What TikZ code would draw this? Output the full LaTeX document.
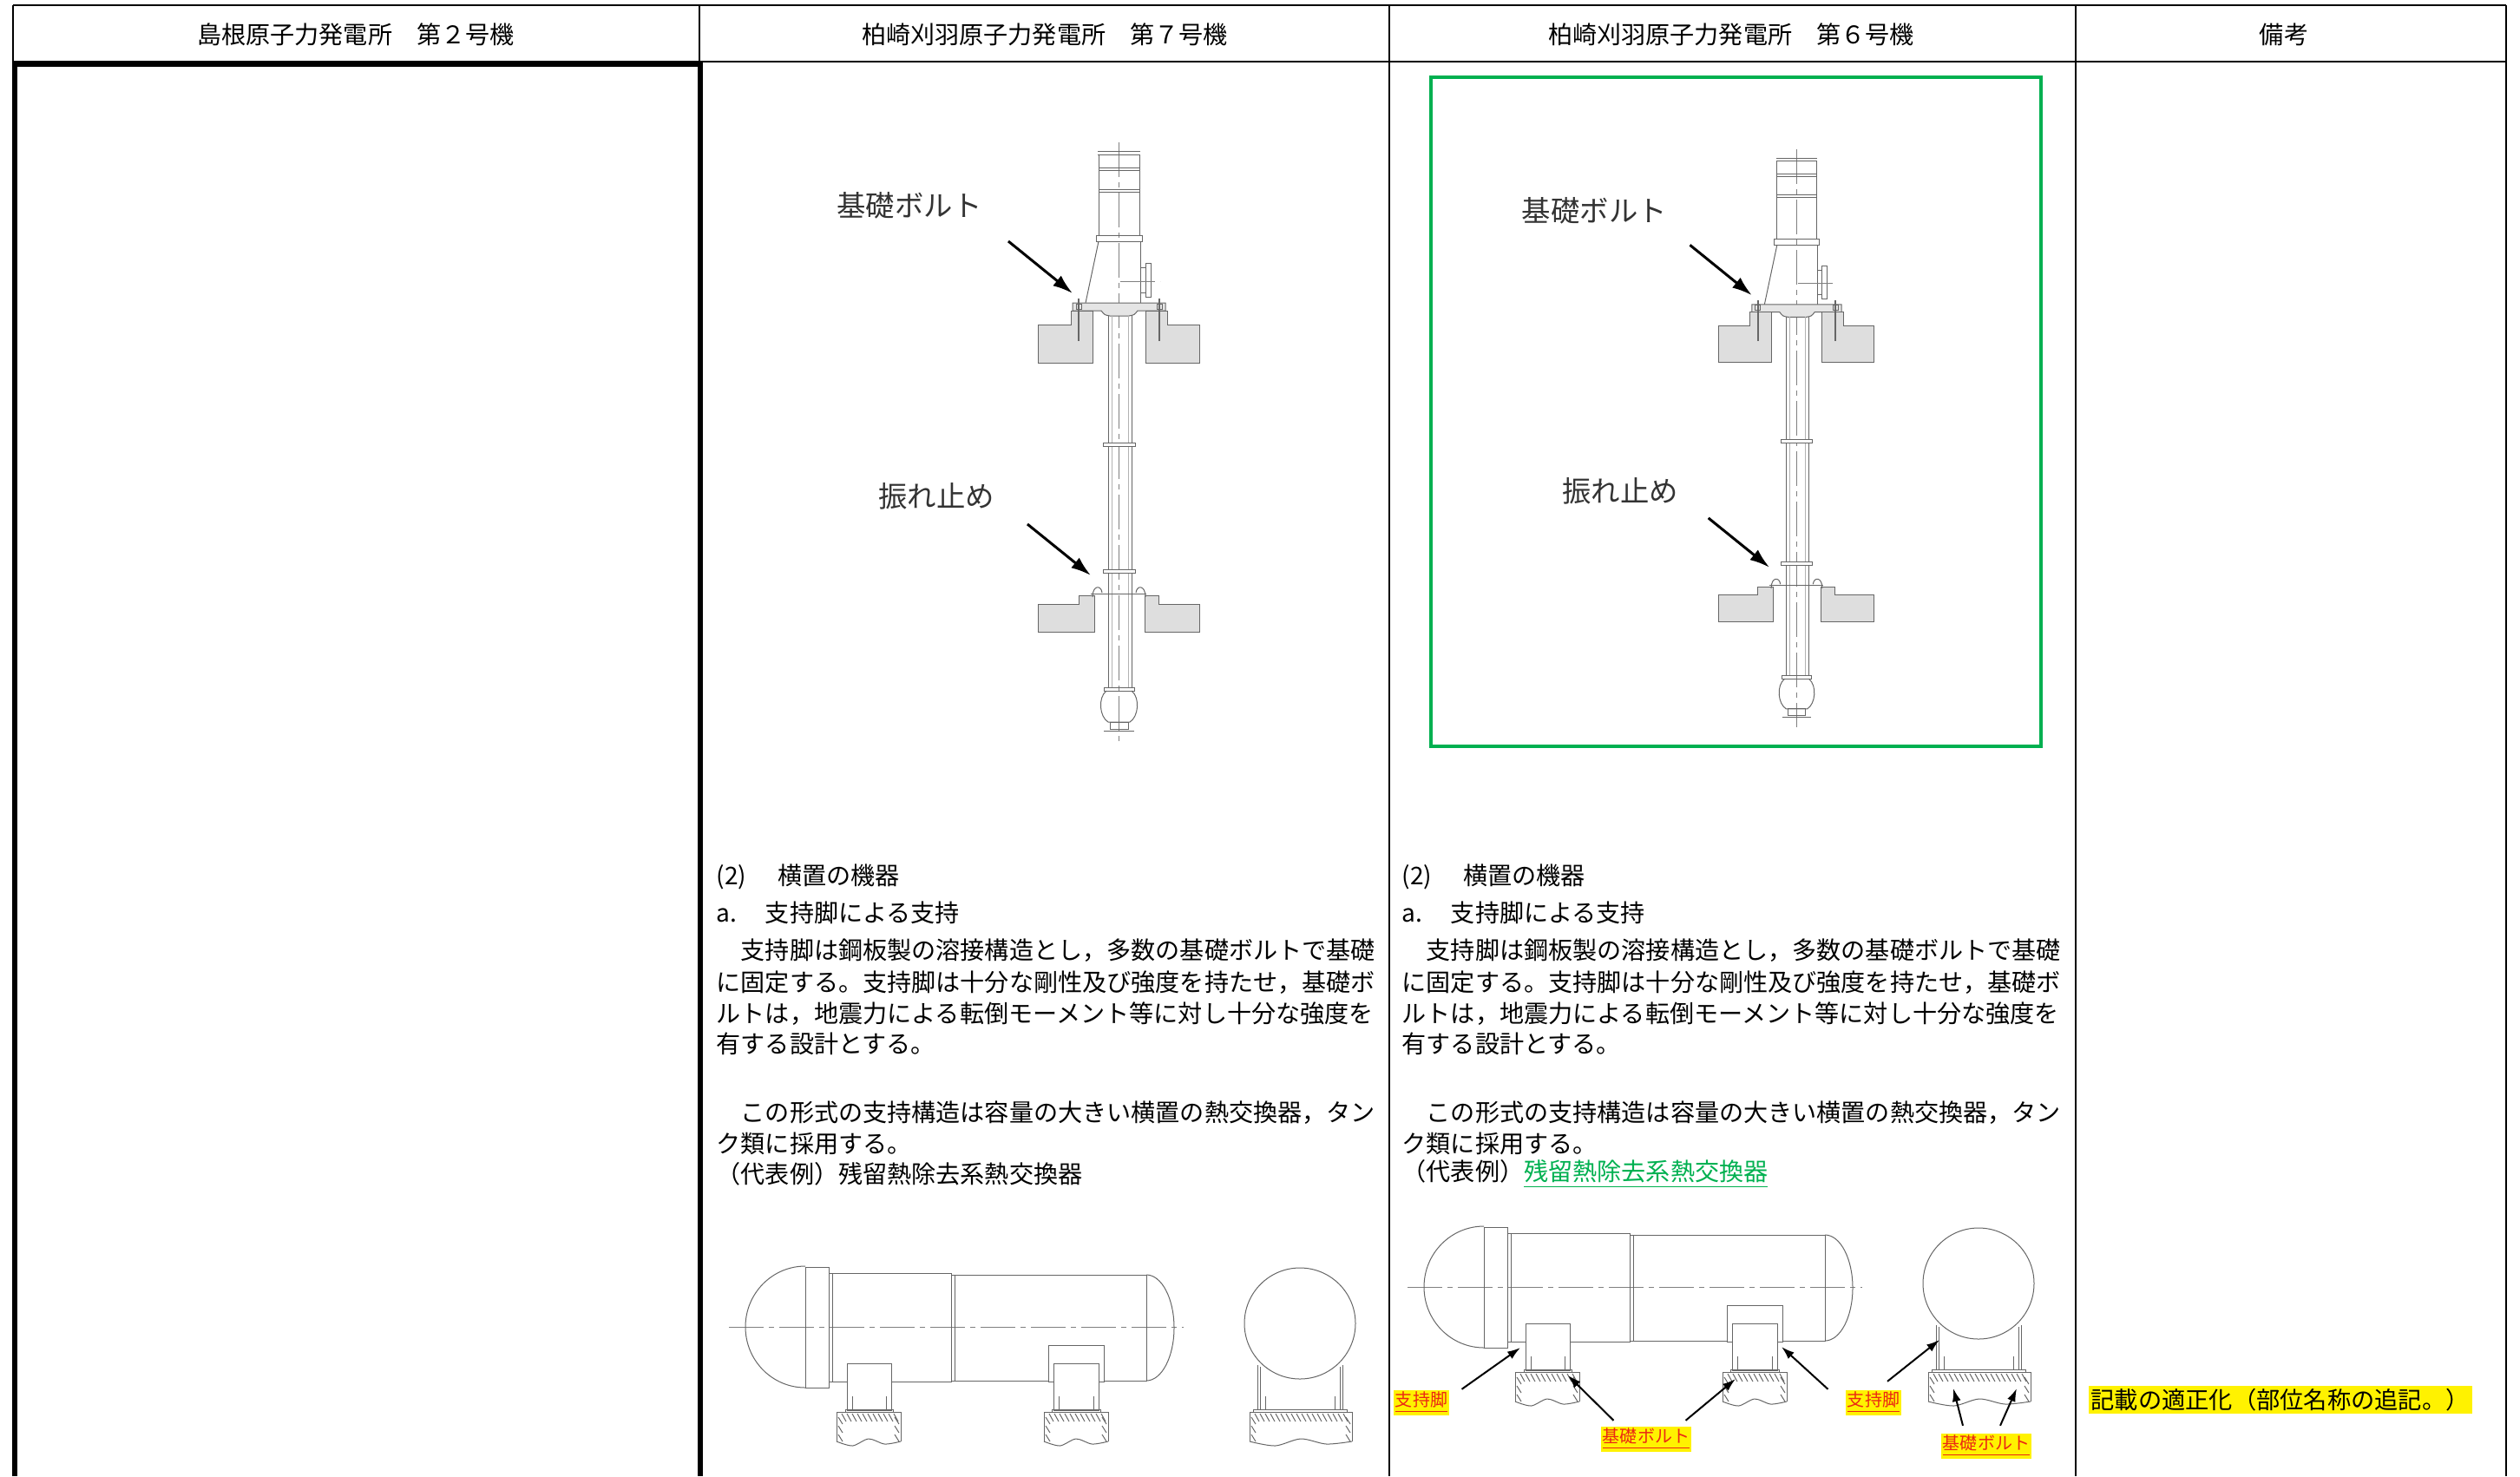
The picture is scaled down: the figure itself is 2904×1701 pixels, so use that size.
\documentclass[tikz,border=0pt]{standalone}
\usepackage{fontspec}
\setmainfont{Noto Sans CJK JP}
\usepackage{tikz}
\usetikzlibrary{calc,positioning,arrows.meta}
\definecolor{vert}{RGB}{0,176,80}
\definecolor{rouge}{RGB}{235,40,20}
\tikzset{
  tabline/.style={draw=black, line width=0.25mm},
  tabthick/.style={draw=black, line width=0.6mm},
  greenbox/.style={draw=vert, line width=0.4mm},
  hdr/.style={inner sep=0pt, font=\fontsize{8pt}{9pt}\selectfont},
  txt/.style={anchor=west, inner sep=0pt, font=\fontsize{8pt}{9pt}\selectfont},
  drw/.style={draw=black!60, line width=0.1mm},
  cline/.style={draw=black!50, line width=0.08mm, dash pattern=on 4mm off 0.6mm on 0.6mm off 0.6mm},
  concrete/.style={drw, fill=black!13},
  lbl/.style={inner sep=0pt, text=black!80, font=\fontsize{9.5pt}{10pt}\selectfont},
  bigarrow/.style={draw=black, line width=0.3mm, -{Latex[length=2.3mm,width=1.5mm]}},
  smallarrow/.style={draw=black, line width=0.2mm, -{Latex[length=1.5mm,width=1mm]}},
  hilite/.style={fill=yellow, text=rouge, inner sep=0.5pt, font=\fontsize{5.7pt}{6pt}\selectfont},
  note/.style={anchor=west, fill=yellow, inner sep=0.3mm, font=\fontsize{7.75pt}{9pt}\selectfont},
  vpump/.pic={
    \draw[cline] (0,-10) -- (0,680);
    % motor
    \draw[drw] (-24,0) -- (25,0) (-24,4) -- (25,4);
    \draw[drw] (-23,4) rectangle (24,97);
    \draw[drw] (-23,19) -- (24,19) (-23,22) -- (24,22) (-23,44) -- (24,44) (-23,47) -- (24,47);
    \draw[drw] (-26,97) rectangle (27,104);
    % discharge head
    \draw[drw] (-23,104) -- (-38,175);
    \draw[drw] (25,104) -- (25,175);
    \draw[drw] (25,134) rectangle (31,163) (31,129) rectangle (37,168);
    \draw[cline] (2,150) -- (48,150);
    \draw[drw, fill=black!10] (-53,175) -- (54,175) -- (54,184) -- (22,184) .. controls (18,189) .. (12,190) -- (-10,190) .. controls (-16,189) .. (-20,184) -- (-53,184) -- cycle;
    % upper foundation
    \draw[concrete] (-93,200) -- (-55,200) -- (-55,184) -- (-30,184) -- (-30,244) -- (-93,244) -- cycle;
    \draw[concrete] (93,200) -- (56,200) -- (56,184) -- (31,184) -- (31,244) -- (93,244) -- cycle;
    \foreach \bx in {-46,47} {
      \draw[drw, line width=0.2mm] (\bx,170) -- (\bx,219);
      \draw[drw] (\bx-3,176) rectangle (\bx+3,182);
    }
    % column
    \draw[drw] (-12,190) -- (-12,618) (15,190) -- (15,618);
    \draw[drw, black!30] (-8,190) -- (-8,618) (11,190) -- (11,618);
    \foreach \ry in {336,482} \draw[drw, fill=white] (-18,\ry) rectangle (19,\ry+4);
    % lower foundation, guide
    \draw[concrete] (-93,522) -- (-46,522) -- (-46,512) -- (-28,512) -- (-28,554) -- (-93,554) -- cycle;
    \draw[concrete] (93,522) -- (46,522) -- (46,512) -- (30,512) -- (30,554) -- (93,554) -- cycle;
    \draw[drw] (-32,510) -- (32,510);
    \draw[drw] (-30,514) .. controls (-30,500) and (-20,500) .. (-19,509);
    \draw[drw] (31,514) .. controls (31,500) and (21,500) .. (20,509);
    % suction bell
    \draw[drw] (-17,618) rectangle (18,622);
    \draw[drw] (-14,622) .. controls (-24,630) and (-22,652) .. (-12,658) -- (13,658) .. controls (23,652) and (25,630) .. (15,622);
    \draw[drw] (-10,658) rectangle (11,666);
    \draw[drw] (-17,668) -- (18,668);
    % labels
    \node[lbl] (-bolt) at (-241,63) {基礎ボルト};
    \node[lbl] (-guide) at (-210,398) {振れ止め};
    \coordinate (-b0) at (-127,104);
    \coordinate (-b1) at (-53,164);
    \coordinate (-g0) at (-105,430);
    \coordinate (-g1) at (-32,489);
    \draw[bigarrow] (-b0) -- (-b1);
    \draw[bigarrow] (-g0) -- (-g1);
  },
  hexch/.pic={
    \draw[cline] (-88,0) -- (436,0);
    % shell
    \draw[drw] (0,70) arc[start angle=90, end angle=270, x radius=69, y radius=70];
    \draw[drw] (0,-69) rectangle (27,70);
    \draw[drw] (27,-62) rectangle (168,63);
    \draw[drw] (31,-62) -- (31,63);
    \draw[drw] (168,-60) rectangle (393,62);
    \draw[drw] (172,-60) -- (172,62);
    \draw[drw] (393,-60) arc[start angle=-90, end angle=90, x radius=32, y radius=61];
    % legs
    \draw[drw, fill=white] (48,42) rectangle (99,96);
    \draw[drw, fill=white] (280,21) rectangle (344,63);
    \draw[drw, fill=white] (286,42) rectangle (338,96);
    \draw[drw] (54,80) -- (54,96) (93,80) -- (93,96) (292,80) -- (292,96) (332,80) -- (332,96);
    \draw[drw] (46,95) rectangle (101,98) (284,95) rectangle (340,98);
    % end view
    \draw[drw] (570,-4) circle[radius=64];
    \draw[drw] (521,44) -- (521,96) (524,46) -- (524,96) (616,46) -- (616,96) (619,44) -- (619,96);
    \draw[drw] (516,95) rectangle (624,98);
    \draw[drw] (530,80) -- (530,96) (610,80) -- (610,96);
    % foundations
    \foreach \fx/\fw in {36/74,275/74,512/118} {
      \pgfmathtruncatemacro\hmax{\fw-8}
      \draw[drw] (\fx,132) -- (\fx,98) -- (\fx+\fw,98) -- (\fx+\fw,132);
      \draw[drw] plot[smooth] coordinates {(\fx,132) (\fx+\fw*0.25,137) (\fx+\fw*0.5,129) (\fx+\fw*0.75,135) (\fx+\fw,132)};
      \foreach \h in {6,12,...,\hmax} \draw[drw] (\fx+\h,100) -- (\fx+\h+5,109);
      \foreach \v in {104,114,124} {
        \draw[drw] (\fx+2,\v) -- (\fx+7,\v+8);
        \draw[drw] (\fx+\fw-7,\v) -- (\fx+\fw-2,\v+8);
      }
    }
  },
}

\begin{document}
\begin{tikzpicture}[x=0.1mm, y=-0.1mm]
  \useasboundingbox (0,0) rectangle (2904,1701);
  % table
  \draw[tabline] (15,6) -- (2888,6) (15,71) -- (2888,71);
  \foreach \cx in {15,806,1601,2392,2888} \draw[tabline] (\cx,6) -- (\cx,1701);
  \draw[tabthick] (17,1701) -- (17,74) -- (807,74) -- (807,1701);
  \node[hdr] (h1) at (410,40) {島根原子力発電所　第２号機};
  \node[hdr] (h2) at (1204,40) {柏崎刈羽原子力発電所　第７号機};
  \node[hdr] (h3) at (1995,40) {柏崎刈羽原子力発電所　第６号機};
  \node[hdr] (h4) at (2632,40) {備考};

  % KK7
  \pic (p7) at (1289,174) {vpump};
  \node[txt] (t7a) at (825,1010) {\makebox[2.5em][l]{(2)}横置の機器};
  \node[txt] (t7b) at (825,1052) {\makebox[2em][l]{a.}支持脚による支持};
  \node[txt] (t7c) at (825,1095) {　支持脚は鋼板製の溶接構造とし，多数の基礎ボルトで基礎};
  \node[txt] (t7d) at (825,1132) {に固定する。支持脚は十分な剛性及び強度を持たせ，基礎ボ};
  \node[txt] (t7e) at (825,1168) {ルトは，地震力による転倒モーメント等に対し十分な強度を};
  \node[txt] (t7f) at (825,1203) {有する設計とする。};
  \node[txt] (t7g) at (825,1282) {　この形式の支持構造は容量の大きい横置の熱交換器，タン};
  \node[txt] (t7h) at (825,1318) {ク類に採用する。};
  \node[txt] (t7i) at (825,1353) {（代表例）残留熱除去系熱交換器};
  \pic (x7) at (928,1529) {hexch};

  % KK6
  \draw[greenbox] (1649,89) rectangle (2352,860);
  \pic[scale=0.965] (p6) at (2070,182) {vpump};
  \node[txt] (t6a) at (1615,1010) {\makebox[2.5em][l]{(2)}横置の機器};
  \node[txt] (t6b) at (1615,1052) {\makebox[2em][l]{a.}支持脚による支持};
  \node[txt] (t6c) at (1615,1095) {　支持脚は鋼板製の溶接構造とし，多数の基礎ボルトで基礎};
  \node[txt] (t6d) at (1615,1132) {に固定する。支持脚は十分な剛性及び強度を持たせ，基礎ボ};
  \node[txt] (t6e) at (1615,1168) {ルトは，地震力による転倒モーメント等に対し十分な強度を};
  \node[txt] (t6f) at (1615,1203) {有する設計とする。};
  \node[txt] (t6g) at (1615,1282) {　この形式の支持構造は容量の大きい横置の熱交換器，タン};
  \node[txt] (t6h) at (1615,1318) {ク類に採用する。};
  \node[txt] (t6i) at (1615,1353) {（代表例）{\color{vert}\underline{残留熱除去系熱交換器}}};
  \pic (x6) at (1710,1483) {hexch};

  % added part names
  \node[hilite] (s1) at (1638,1616) {\underline{支持脚}};
  \node[hilite] (k1) at (1897,1658) {\underline{基礎ボルト}};
  \node[hilite] (s2) at (2159,1616) {\underline{支持脚}};
  \node[hilite] (k2) at (2289,1666) {\underline{基礎ボルト}};
  \coordinate (leg1) at (1752,1553);
  \coordinate (bolt1) at (1807,1585);
  \coordinate (bolt2) at (2000,1589);
  \coordinate (leg2) at (2053,1552);
  \coordinate (leg3) at (2235,1544);
  \coordinate (bolt3) at (2251,1600);
  \coordinate (bolt4) at (2324,1600);
  \draw[smallarrow] ([xshift=1.4mm]s1.north east) -- (leg1);
  \draw[smallarrow] ([xshift=1.5mm,yshift=0.6mm]k1.north west) -- (bolt1);
  \draw[smallarrow] ([xshift=-0.7mm,yshift=0.6mm]k1.north east) -- (bolt2);
  \draw[smallarrow] ([xshift=-2mm]s2.north west) -- (leg2);
  \draw[smallarrow] ([xshift=1.6mm,yshift=0.9mm]s2.north) -- (leg3);
  \draw[smallarrow] ([xshift=-2.7mm,yshift=0.8mm]k2.north) -- (bolt3);
  \draw[smallarrow] ([xshift=1.6mm,yshift=0.8mm]k2.north) -- (bolt4);

  % remarks
  \node[note] (r1) at (2406,1613) {記載の適正化（部位名称の追記。）};
\end{tikzpicture}
\end{document}
